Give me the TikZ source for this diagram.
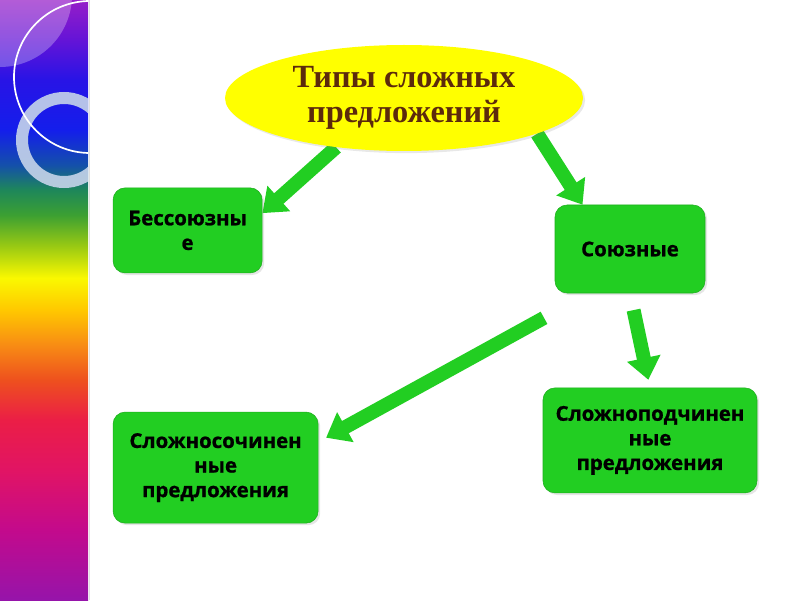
\documentclass[tikz,border=0pt]{standalone}
\usepackage{fontspec}
\setmainfont{Liberation Serif}
\newfontfamily\boxfont{Open Sans}[BoldFeatures={FakeBold=1}]
\usetikzlibrary{shapes.geometric,arrows.meta,shadows,backgrounds}

\definecolor{boxgreen}{RGB}{34,206,34}
\definecolor{titlebrown}{RGB}{92,42,12}
\definecolor{ovalyellow}{RGB}{255,255,0}
\definecolor{ringblue}{RGB}{198,212,234}

% rainbow stripe colours, bottom to top
\definecolor{rbA}{RGB}{150,20,170}
\definecolor{rbB}{RGB}{195,10,140}
\definecolor{rbC}{RGB}{225,20,100}
\definecolor{rbD}{RGB}{235,30,70}
\definecolor{rbE}{RGB}{238,80,30}
\definecolor{rbF}{RGB}{248,140,20}
\definecolor{rbG}{RGB}{255,200,0}
\definecolor{rbH}{RGB}{250,248,0}
\definecolor{rbI}{RGB}{150,200,20}
\definecolor{rbJ}{RGB}{60,160,50}
\definecolor{rbK}{RGB}{30,135,90}
\definecolor{rbL}{RGB}{20,80,170}
\definecolor{rbM}{RGB}{20,30,235}
\definecolor{rbN}{RGB}{40,20,230}
\definecolor{rbO}{RGB}{100,20,215}
\definecolor{rbP}{RGB}{150,30,200}
\pgfdeclareverticalshading{rainbow}{100bp}{color(0bp)=(rbA); color(25bp)=(rbA);
  color(30.83bp)=(rbB); color(35.83bp)=(rbC); color(40bp)=(rbD);
  color(43.33bp)=(rbE); color(46.25bp)=(rbF); color(49.17bp)=(rbG);
  color(51.83bp)=(rbH); color(54.58bp)=(rbI); color(57.08bp)=(rbJ);
  color(59.17bp)=(rbK); color(61.25bp)=(rbL); color(64.17bp)=(rbM);
  color(68.33bp)=(rbN); color(71.67bp)=(rbO); color(75bp)=(rbP); color(100bp)=(rbP)}

\begin{document}
\begin{tikzpicture}[
    oval/.style={ellipse, fill=ovalyellow, inner sep=0pt, align=center,
        minimum width=8.95cm, minimum height=2.65cm,
        font=\fontsize{23}{25}\selectfont\bfseries, text=titlebrown,
        drop shadow={opacity=0.18, shadow xshift=1.5pt, shadow yshift=-1.5pt}},
    kind/.style={rectangle, rounded corners=0.3cm, fill=boxgreen,
        draw=boxgreen!85!black, inner sep=0pt, align=center,
        font=\boxfont\bfseries\fontsize{14.5}{17.5}\selectfont, text=black,
        drop shadow={opacity=0.2, shadow xshift=1.5pt, shadow yshift=-1.5pt}},
    bigarrow/.style={draw=boxgreen, line width=0.35cm,
        -{Triangle[length=0.55cm, width=0.82cm]}}
]
    \useasboundingbox (0,0) rectangle (20,15);

    \node[oval] (types) at (10.1,12.55) {Типы сложных\\предложений};

    \node[kind, minimum width=3.725cm, minimum height=2.125cm] (bes) at (4.69,9.24) {Бессоюзны\\е};
    \node[kind, minimum width=3.75cm, minimum height=2.2cm] (soyuz) at (15.75,8.775) {Союзные};
    \node[kind, minimum width=5.125cm, minimum height=2.775cm] (ssp) at (5.39,3.31) {Сложносочинен\\ные\\предложения};
    \node[kind, minimum width=5.35cm, minimum height=2.625cm] (spp) at (16.25,3.99) {Сложноподчинен\\ные\\предложения};

    \begin{scope}[on background layer]
        \fill[white] (0,0) rectangle (20,15);

        % rainbow stripe on the left
        \shade[shading=rainbow] (0,0) rectangle (2.2,15);
        \begin{scope}
            \clip (0,0) rectangle (2.2,15);
            \fill[white, opacity=0.28] (0,15.125) circle (1.8);
            \draw[ringblue, opacity=0.9, line width=0.3cm] (1.6,11.5) circle (1.05);
            \draw[white, line width=1.2pt] (2.25,13.075) circle (1.9);
        \end{scope}
        \draw[gray!25, line width=0.8pt] (2.24,0) -- (2.24,15);

        % arrows
        \draw[bigarrow] (types.216) -- (bes.13);
        \draw[bigarrow] (types.345) -- (soyuz.137);
        \draw[bigarrow, shorten <=1.275cm, shorten >=0.22cm] (soyuz.227) -- (ssp.14);
        \draw[bigarrow, shorten <=0.43cm, shorten >=0.2cm] (soyuz.south) -- (spp.north);
    \end{scope}
\end{tikzpicture}
\end{document}
